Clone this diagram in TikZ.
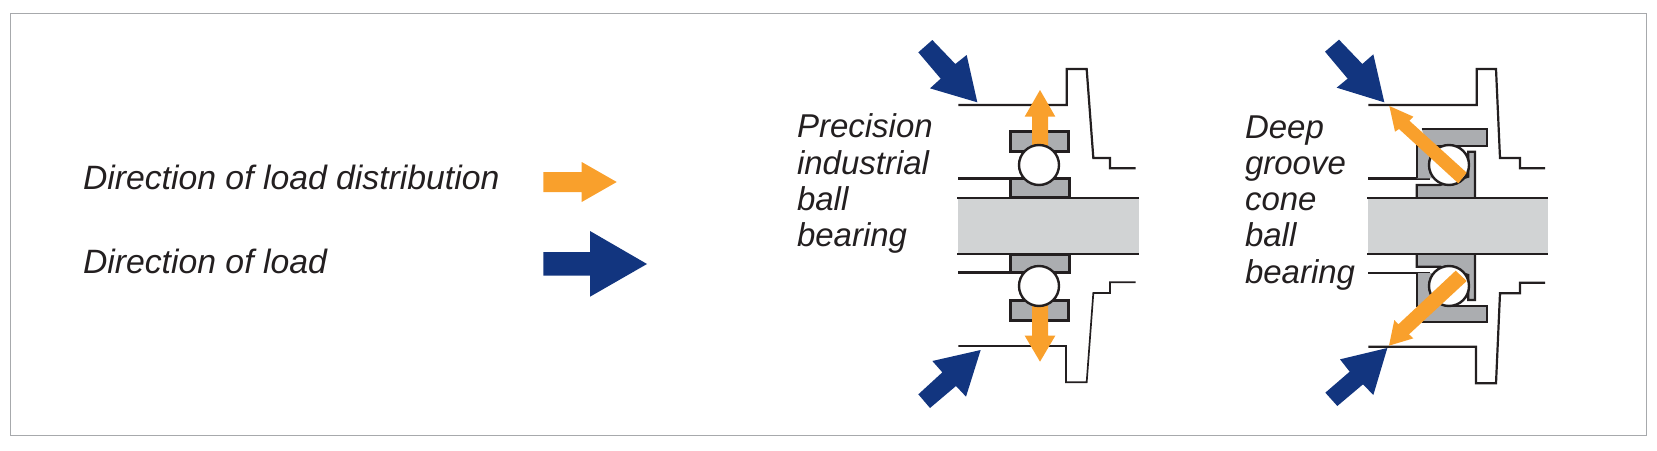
\documentclass[tikz,border=0pt]{standalone}
\usepackage{fontspec}
\setmainfont{Liberation Sans}
\definecolor{ringgray}{HTML}{ABADB0}
\definecolor{shaftgray}{HTML}{D1D3D4}
\definecolor{loadorange}{HTML}{F9A02C}
\definecolor{loadnavy}{HTML}{12357F}
\definecolor{inkline}{HTML}{231F20}
\definecolor{framegray}{HTML}{A7A9AC}
\tikzset{
  label text/.style={anchor=base west,inner sep=0pt,outer sep=0pt,text=inkline,font=\fontsize{33}{38}\selectfont\itshape},
  legend text/.style={label text,font=\fontsize{33.75}{38}\selectfont\itshape},
  orange arrow/.style={fill=loadorange,draw=none},
  navy arrow/.style={fill=loadnavy,draw=none},
  outline/.style={draw=inkline,line width=2.2pt,line join=miter},
  thin outline/.style={draw=inkline,line width=1.7pt,line join=miter},
  ring/.style={fill=ringgray,draw=inkline,line width=3pt,line join=miter},
  ball/.style={fill=white,draw=inkline,line width=2.4pt},
  zoomed/.style={x=0.33333pt,y=-0.33333pt},
}
\begin{document}
\begin{tikzpicture}[x=1pt,y=-1pt]
\useasboundingbox (0,0) rectangle (1657,450);
\draw[framegray,line width=1pt] (10.5,13.5) rectangle (1646.5,435.5);
% legend
\node[legend text] (legendA) at (83,189.3) {Direction of load distribution};
\node[legend text] (legendB) at (83,273) {Direction of load};
\fill[orange arrow] (543.3,172.2)--(581.7,172.2)--(581.7,162)--(616.7,182)--(581.7,202)--(581.7,192.2)--(543.3,192.2)--cycle;
\fill[navy arrow] (543.3,252.2)--(590,252.2)--(590,231)--(647,264)--(590,296.7)--(590,275.5)--(543.3,275.5)--cycle;
% bearing labels
\node[label text] (p1) at (797,137.7) {Precision};
\node[label text] (p2) at (797,174) {industrial};
\node[label text] (p3) at (797,210.7) {ball};
\node[label text] (p4) at (797,246.7) {bearing};
\node[label text] (d1) at (1245,138) {Deep};
\node[label text] (d2) at (1245,174) {groove};
\node[label text] (d3) at (1245,210) {cone};
\node[label text] (d4) at (1245,246) {ball};
\node[label text] (d5) at (1245,283) {bearing};
% bearing 1, top half
\begin{scope}[shift={(880,20)},zoomed]
\fill[shaftgray] (235,535) rectangle (777,700);
\draw[outline] (235,255)--(560,255)--(560,147)--(620,147)--(640,414)--(690,414)--(690,445)--(767,445);
\draw[outline,line width=2.6pt] (235,475)--(392,475);
\draw[ring] (392,335) rectangle (566,395);
\draw[ring] (392,475) rectangle (568,533);
\draw[outline] (232,533)--(777,533);
\fill[orange arrow] (480,210)--(526,290)--(504,290)--(504,385)--(456,385)--(456,290)--(434,290)--cycle;
\draw[ball] (477,435) circle (60);
\fill[navy arrow] (292,247)--(260,105)--(226,132)--(157,60)--(115,97)--(182,176)--(150,205)--cycle;
\end{scope}
% bearing 1, bottom half
\begin{scope}[shift={(880,220)},zoomed]
\fill[shaftgray] (235,-20) rectangle (777,100);
\draw[thin outline] (235,378)--(558,378)--(558,487)--(620,487)--(640,219)--(690,219)--(690,187)--(767,187);
\draw[outline,line width=3.4pt] (235,158)--(392,158);
\draw[ring] (392,102) rectangle (568,158);
\draw[ring] (392,241) rectangle (566,301);
\draw[outline] (232,101)--(777,101);
\fill[orange arrow] (480,425)--(526,347)--(504,347)--(504,250)--(456,250)--(456,347)--(434,347)--cycle;
\draw[ball] (477,198) circle (60);
\fill[navy arrow] (302,390)--(157,423)--(187,457)--(115,523)--(150,564)--(228,498)--(258,530)--cycle;
\end{scope}
% bearing 2, top half
\begin{scope}[shift={(1290,20)},zoomed]
\fill[shaftgray] (235,535) rectangle (773,700);
\draw[outline] (235,255)--(560,255)--(560,147)--(618,147)--(630,414)--(690,414)--(690,445)--(765,445);
\draw[outline,line width=2.6pt] (235,475)--(420,475);
\path[fill=ringgray] (395,328)--(592,328)--(592,377)--(380,377)--(380,475)--(440,475)--(415,377)--cycle;
\path[fill=ringgray] (380,377) rectangle (430,475);
\draw[inkline,line width=2.2pt] (395,328)--(592,328)--(592,377)--(380,377)--(380,475);
\path[fill=ringgray,draw=inkline,line width=2.2pt] (380,532)--(380,495)--(450,495)--(535,470)--(535,395)--(555,395)--(555,533);
\draw[ball] (477,435) circle (60);
\draw[outline] (232,534)--(773,534);
\fill[orange arrow] (298,258)--(370,290)--(358,302)--(530,458)--(505,490)--(327,327)--(315,335)--cycle;
\fill[navy arrow] (283,247)--(250,103)--(217,132)--(147,59)--(105,95)--(173,176)--(140,203)--cycle;
\end{scope}
% bearing 2, bottom half
\begin{scope}[shift={(1290,220)},zoomed]
\fill[shaftgray] (235,-20) rectangle (773,100);
\draw[outline] (235,380)--(558,380)--(558,490)--(618,490)--(630,220)--(690,220)--(690,188)--(765,188);
\draw[thin outline] (235,160)--(420,160);
\path[fill=ringgray] (380,160) rectangle (430,258);
\path[fill=ringgray,draw=inkline,line width=2.2pt] (380,102)--(380,140)--(450,140)--(535,165)--(535,240)--(555,240)--(555,102);
\path[fill=ringgray] (395,305)--(592,305)--(592,258)--(380,258)--cycle;
\draw[inkline,line width=2.2pt] (380,160)--(380,262);
\draw[inkline,line width=2.2pt] (395,305)--(592,305)--(592,258)--(470,258);
\draw[ball] (477,198) circle (60);
\draw[outline] (232,101)--(773,101);
\fill[orange arrow] (297,377)--(313,300)--(325,313)--(497,152)--(530,183)--(357,343)--(370,355)--cycle;
\fill[navy arrow] (292,384)--(150,418)--(179,455)--(106,518)--(142,558)--(219,493)--(250,525)--cycle;
\end{scope}
\end{tikzpicture}
\end{document}
